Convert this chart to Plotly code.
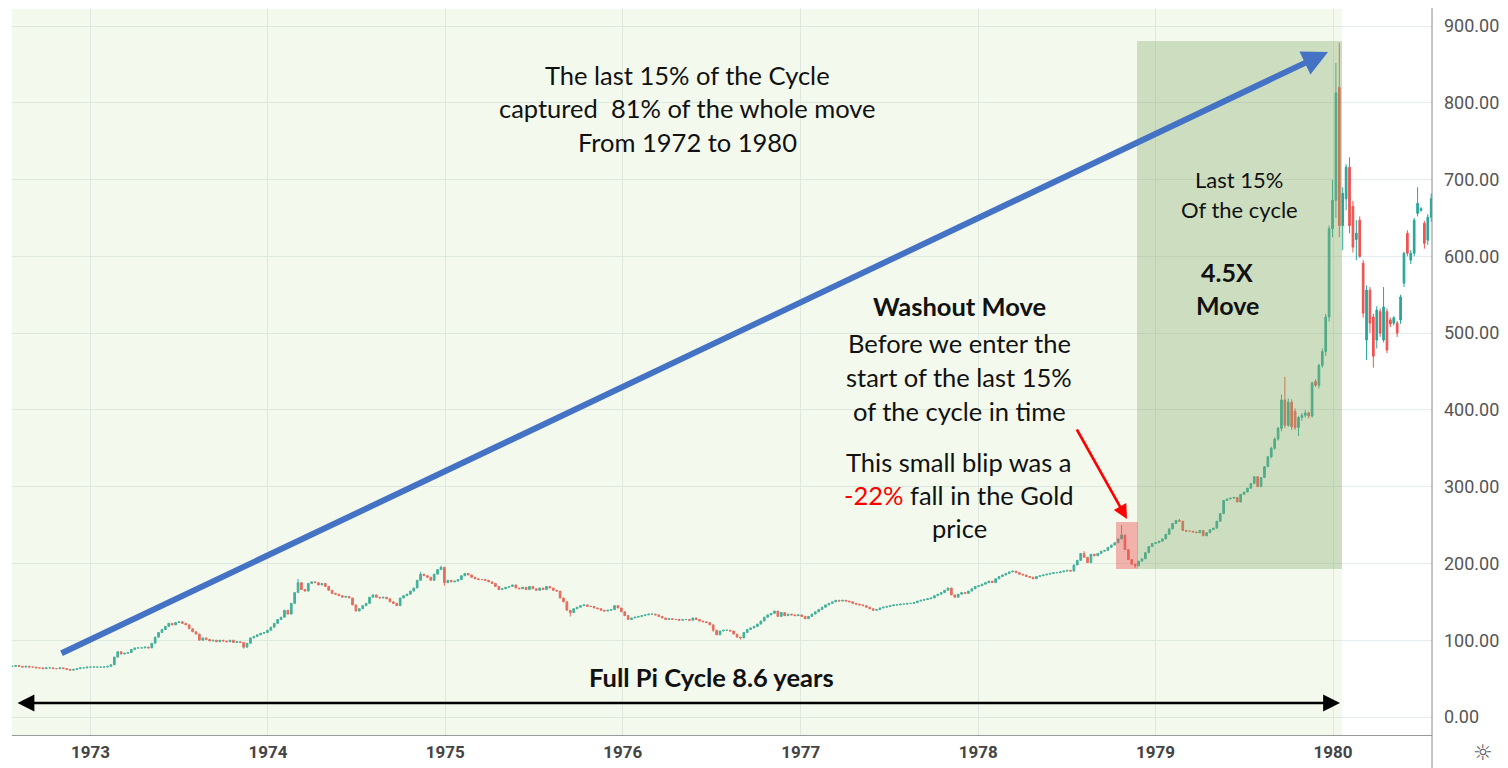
import pandas as pd
import plotly.graph_objects as go

# ---------------- DATA ----------------
week_start = "1972-07-24"   # first weekly candle

# Weekly closes, Jul 1972 -> early Oct 1979 (quiet part of the chart)
close_1972 = [66, 67, 66, 65, 66, 65, 65, 64, 64, 63, 64, 64, 63, 63, 64, 63,
              62, 61, 62, 63, 64, 64, 65]
close_1973 = [65, 65, 65, 65, 65, 66, 68, 78, 85, 82, 83, 84, 88, 90, 90, 90,
              91, 90, 96, 104, 110, 114, 118, 122, 120, 123, 124, 122, 120, 115,
              111, 108, 100, 103, 101, 99, 100, 98, 100, 99, 98, 100, 97, 98, 97,
              91, 96, 103, 105, 107, 109, 110]
close_1974 = [113, 117, 122, 127, 130, 139, 134, 148, 162, 175, 166, 164, 174,
              176, 175, 172, 174, 170, 165, 161, 160, 158, 156, 157, 155, 146,
              138, 141, 145, 148, 156, 159, 156, 155, 156, 154, 150, 148, 145,
              155, 158, 160, 164, 168, 178, 186, 184, 182, 178, 186, 192, 195]
close_1975 = [175, 178, 176, 177, 179, 184, 187, 185, 182, 180, 179, 179, 178,
              176, 174, 170, 166, 167, 169, 170, 172, 168, 167, 169, 166, 170,
              167, 165, 168, 166, 170, 168, 165, 164, 155, 150, 139, 136, 141,
              143, 145, 146, 144, 144, 142, 141, 139, 138, 139, 140, 145, 142]
close_1976 = [137, 132, 127, 129, 130, 131, 132, 133, 134, 134, 133, 131, 129,
              127, 128, 127, 127, 126, 127, 127, 126, 129, 127, 125, 124, 123,
              120, 113, 107, 112, 113, 113, 112, 108, 104, 103, 110, 114, 116,
              118, 121, 125, 130, 133, 135, 138, 131, 136, 132, 134, 133, 132]
close_1977 = [133, 131, 128, 131, 134, 137, 140, 143, 146, 148, 150, 152, 151,
              152, 151, 150, 148, 147, 146, 145, 143, 141, 139, 140, 142, 143,
              144, 145, 146, 146, 147, 147, 148, 148, 149, 151, 152, 153, 154,
              155, 158, 160, 162, 165, 168, 159, 156, 160, 162, 161, 164, 167]
close_1978 = [170, 171, 173, 175, 177, 175, 180, 183, 185, 187, 189, 190, 188,
              186, 185, 183, 182, 180, 183, 184, 185, 186, 187, 188, 188, 189,
              190, 191, 190, 198, 204, 213, 208, 201, 212, 210, 213, 216, 217,
              221, 224, 227, 232, 237, 218, 205, 199, 197, 203, 206, 214, 222]
close_1979 = [226, 227, 229, 232, 238, 245, 252, 256, 255, 243, 242, 242, 241,
              240, 243, 236, 240, 244, 246, 255, 265, 282, 284, 285, 286, 280,
              290, 293, 298, 304, 313, 300, 312, 326, 339]

# Visible wick extremes in the quiet part (week index -> price)
early_high_wicks = {84: 180, 120: 189, 126: 197, 315: 216, 326: 250, 343: 258}
early_low_wicks = {68: 89, 127: 171, 164: 131, 206: 111, 214: 101, 330: 194}

# Oct 1979 -> Jul 1980: explicit weekly OHLC
late_open = [339, 350, 362, 376, 413, 380, 410, 398, 377, 390,
             393, 396, 392, 437, 432, 458, 476, 521, 636, 673,
             820, 640, 675, 716, 665, 622, 647, 591, 491, 556,
             521, 491, 528, 491, 528, 517, 513, 513, 517, 565,
             630, 595, 604, 656, 660, 643, 621, 651]
late_high = [352, 364, 378, 420, 443, 415, 414, 402, 392, 396,
             400, 398, 437, 440, 460, 480, 525, 640, 700, 852,
             878, 690, 720, 729, 672, 647, 652, 595, 562, 560,
             525, 535, 532, 560, 532, 520, 522, 516, 550, 606,
             634, 608, 650, 690, 664, 646, 655, 682]
late_low = [337, 348, 360, 372, 376, 378, 374, 374, 366, 386,
            390, 389, 390, 430, 428, 455, 470, 515, 625, 650,
            625, 608, 660, 630, 605, 595, 598, 520, 465, 500,
            455, 480, 495, 488, 474, 508, 510, 495, 512, 560,
            600, 590, 600, 652, 658, 610, 615, 645]
late_close = [350, 362, 376, 413, 380, 410, 378, 377, 390, 393,
              396, 392, 435, 432, 458, 476, 521, 636, 673, 813,
              640, 682, 716, 640, 612, 630, 600, 526, 556, 513,
              470, 530, 500, 534, 478, 512, 520, 500, 547, 604,
              604, 604, 647, 669, 662, 617, 651, 675]

y_ticks = [0, 100, 200, 300, 400, 500, 600, 700, 800, 900]

# ---------------- build OHLC ----------------
early_close = (close_1972 + close_1973 + close_1974 + close_1975 +
               close_1976 + close_1977 + close_1978 + close_1979)
early_open = [early_close[0]] + early_close[:-1]
early_high, early_low = [], []
for i, (o, c) in enumerate(zip(early_open, early_close)):
    early_high.append(max(o, c, early_high_wicks.get(i, 0)))
    early_low.append(min(o, c, early_low_wicks.get(i, 10**6)))

opens = early_open + late_open
highs = early_high + late_high
lows = early_low + late_low
closes = early_close + late_close
dates = pd.date_range(week_start, periods=len(closes), freq="7D")

# ---------------- pixel helpers for layout placement (page pixels) ----------------
BODY = 8                      # default page margin around the plot div
FIG_W, FIG_H = 1500, 760
PL, PR, PT, PB = 12, 1432, 8, 735
ORIGIN = pd.Timestamp("1973-01-01")
DAYS_PER_PX = 2556 / (1333 - 90.5)
PX_PER_UNIT = (717 - 26) / 900


def xd(px):
    return ORIGIN + pd.Timedelta(days=(px - 90.5) * DAYS_PER_PX)


def yv(py):
    return (717 - py) / PX_PER_UNIT


def xp(px):
    return (px - PL) / (PR - PL)


def yp(py):
    return (PB - py) / (PB - PT)


fig = go.Figure()
fig.add_trace(go.Candlestick(
    x=dates, open=opens, high=highs, low=lows, close=closes,
    increasing=dict(line=dict(color="#26a69a", width=1), fillcolor="#26a69a"),
    decreasing=dict(line=dict(color="#ef5350", width=1), fillcolor="#ef5350"),
    whiskerwidth=0, showlegend=False, hoverinfo="skip",
))

shapes = [
    dict(type="rect", xref="x", yref="paper", x0=xd(PL), x1=xd(1342), y0=0, y1=yp(9),
         fillcolor="rgba(190,225,160,0.19)", line_width=0, layer="above"),
    dict(type="rect", xref="x", yref="y", x0=xd(1137), x1=xd(1342), y0=yv(569), y1=yv(41),
         fillcolor="rgba(120,160,90,0.30)", line_width=0, layer="above"),
    dict(type="rect", xref="x", yref="y", x0=xd(1116), x1=xd(1138), y0=yv(569), y1=yv(522),
         fillcolor="rgba(235,80,80,0.42)", line_width=0, layer="above"),
    dict(type="line", xref="paper", yref="paper", x0=1, x1=1, y0=yp(770), y1=yp(0),
         line=dict(color="#8a8a8a", width=1)),
]

TXT = "Lato"
annotations = []


def label(text, px, py, size, bold=False, color="#111111"):
    annotations.append(dict(
        text=f"<b>{text}</b>" if bold else text, xref="paper", yref="paper",
        x=xp(px), y=yp(py), xanchor="center", yanchor="middle", showarrow=False,
        font=dict(family=TXT, size=size, color=color)))


MAIN = 25.5
label("The last 15% of the Cycle", 687, 75, MAIN)
label("captured  81% of the whole move", 687, 108, MAIN)
label("From 1972 to 1980", 687, 142, MAIN)
label("Last 15%", 1239, 180, 22)
label("Of the cycle", 1239, 210, 22)
label("4.5X", 1227, 272, 25, bold=True)
label("Move", 1227, 305, 25, bold=True)
label("Washout Move", 959, 306, MAIN, bold=True)
label("Before we enter the", 959, 343, MAIN)
label("start of the last 15%", 959, 377, MAIN)
label("of the cycle in time", 959, 411, MAIN)
label("This small blip was a", 959, 462, MAIN)
label("<span style='color:#ff0000'>-22%</span> fall in the Gold", 959, 495, MAIN)
label("price", 959, 528, MAIN)
label("Full Pi Cycle 8.6 years", 711, 677, MAIN, bold=True)

annotations.append(dict(
    x=xd(1328), y=yv(52), ax=xd(60), ay=yv(654), xref="x", yref="y",
    axref="x", ayref="y", text="", showarrow=True, arrowhead=2,
    arrowsize=0.85, arrowwidth=6, arrowcolor="#4472c4"))
annotations.append(dict(
    x=xd(1340), y=yv(703), ax=xd(16), ay=yv(703), xref="x", yref="y",
    axref="x", ayref="y", text="", showarrow=True, arrowhead=2, arrowside="end+start",
    arrowsize=1.3, arrowwidth=2.6, arrowcolor="#000000"))
annotations.append(dict(
    x=xd(1127), y=yv(519), ax=xd(1076), ay=yv(428), xref="x", yref="y",
    axref="x", ayref="y", text="", showarrow=True, arrowhead=2,
    arrowsize=1.1, arrowwidth=2.6, arrowcolor="#ff0000"))
annotations.append(dict(
    text="☼", xref="paper", yref="paper", x=xp(1483), y=yp(752),
    xanchor="center", yanchor="middle", showarrow=False,
    font=dict(family="DejaVu Sans", size=22, color="#555555")))

fig.update_layout(
    width=FIG_W, height=FIG_H,
    margin=dict(l=PL - BODY, r=FIG_W - (PR - BODY), t=PT - BODY, b=FIG_H - (PB - BODY),
                autoexpand=False),
    paper_bgcolor="white", plot_bgcolor="white",
    shapes=shapes, annotations=annotations,
    xaxis=dict(
        type="date", range=[xd(PL), xd(PR)], rangeslider=dict(visible=False),
        tick0="1973-01-01", dtick="M12", tickformat="%Y",
        showgrid=True, gridcolor="#e4ecef", gridwidth=1,
        showline=True, linecolor="#9a9a9a", linewidth=1, zeroline=False,
        ticks="", ticklabelstandoff=2,
        tickfont=dict(family="Roboto", size=17, color="#444444", weight="bold"),
    ),
    yaxis=dict(
        side="right", range=[yv(PB), yv(PT)], tickvals=y_ticks, tickformat=".2f",
        showgrid=True, gridcolor="#e4ecef", gridwidth=1, zeroline=False,
        showline=False, ticks="", ticklabelstandoff=11,
        tickfont=dict(family="Roboto", size=18, color="#555555"),
    ),
)

fig.write_html("out.html")
